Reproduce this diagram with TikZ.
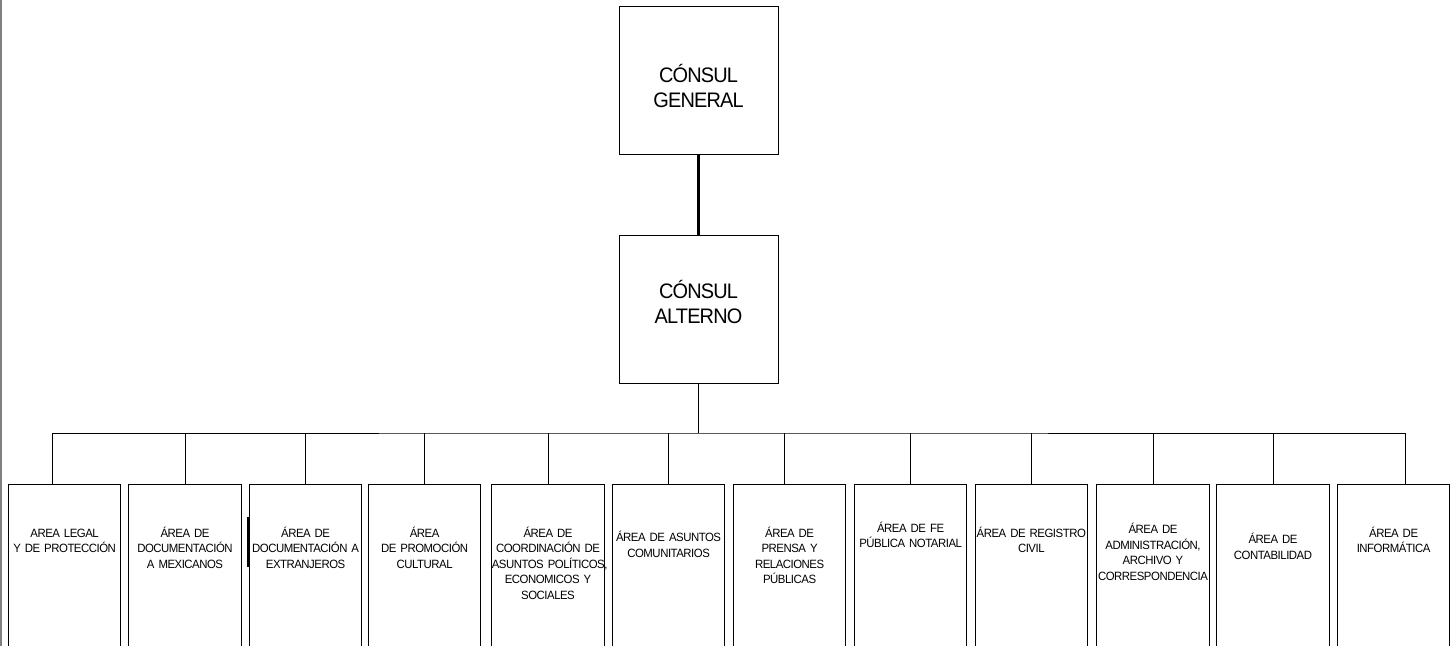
\documentclass[tikz,border=0pt]{standalone}
\usepackage{fontspec}
\setmainfont{Liberation Sans}[FakeStretch=0.95, LetterSpace=-4, WordSpace=0.6]

\tikzset{
  jefe/.style={draw, anchor=north, text width=79.5pt, align=center,
    inner xsep=0pt, inner ysep=0pt, font=\fontsize{10.5}{12.5}\selectfont},
  area/.style={draw, anchor=north, text width=56.25pt, align=center,
    inner xsep=0pt, inner ysep=0pt, text height=26.3pt, text depth=62pt,
    font=\fontsize{6}{7.7}\selectfont},
}

\begin{document}
\begin{tikzpicture}[x=0.5pt, y=-0.5pt, line width=0.5pt]
    \useasboundingbox (0,0) rectangle (1455,646);
    \clip (0,0) rectangle (1455,646);
    \draw[gray, line width=1pt] (1,0) -- (1,646);

    \node[jefe, text height=38pt, text depth=36pt] (general) at (698.5,6) {CÓNSUL\\GENERAL};
    \node[jefe, text height=31.5pt, text depth=42.5pt] (alterno) at (698.5,235) {CÓNSUL\\ALTERNO};
    \draw[line width=1.6pt] (general.south) -- (alterno.north);

    \node[area] (legal) at (64.6,484.3) {AREA LEGAL\\Y DE PROTECCIÓN};
    \node[area] (mexicanos) at (185,484.3) {ÁREA DE\\DOCUMENTACIÓN\\A MEXICANOS};
    \node[area] (extranjeros) at (305.6,484.3) {ÁREA DE\\DOCUMENTACIÓN A\\EXTRANJEROS};
    \node[area] (cultural) at (424.6,484.3) {ÁREA\\DE PROMOCIÓN\\CULTURAL};
    \node[area] (politicos) at (548,484.3) {ÁREA DE\\COORDINACIÓN DE\\\mbox{ASUNTOS POLÍTICOS,}\\ECONOMICOS Y\\SOCIALES};
    \node[area, text height=28.5pt] (comunitarios) at (668.6,484.3) {ÁREA DE ASUNTOS\\COMUNITARIOS};
    \node[area] (prensa) at (789.6,484.3) {ÁREA DE\\PRENSA Y\\RELACIONES\\PÚBLICAS};
    \node[area, text height=23.7pt] (notarial) at (910.6,484.3) {ÁREA DE FE\\\mbox{PÚBLICA NOTARIAL}};
    \node[area] (civil) at (1031.3,484.3) {ÁREA DE REGISTRO\\CIVIL};
    \node[area, text height=24.5pt] (admin) at (1153,484.3) {ÁREA DE\\ADMINISTRACIÓN,\\ARCHIVO Y\\\mbox{CORRESPONDENCIA}};
    \node[area, text height=29.5pt] (contab) at (1273,484.3) {ÁREA DE\\CONTABILIDAD};
    \node[area] (informatica) at (1393.6,484.3) {ÁREA DE\\INFORMÁTICA};

    % bus
    \coordinate (bus) at (698.5,433);
    \draw (alterno.south) -- (bus);
    \draw ([xshift=-6pt]legal.north) |- (bus) -| ([xshift=6pt]informatica.north);
    \draw (mexicanos.north) -- (mexicanos.north |- bus);
    \draw (extranjeros.north) -- (extranjeros.north |- bus);
    \draw (cultural.north) -- (cultural.north |- bus);
    \draw (politicos.north) -- (politicos.north |- bus);
    \draw (comunitarios.north) -- (comunitarios.north |- bus);
    \draw ([xshift=-2.5pt]prensa.north) -- ([xshift=-2.5pt]prensa.north |- bus);
    \draw (notarial.north) -- (notarial.north |- bus);
    \draw (civil.north) -- (civil.north |- bus);
    \draw (admin.north) -- (admin.north |- bus);
    \draw (contab.north) -- (contab.north |- bus);

    \draw[line width=0.9pt] ([shift={(-0.5pt,-16.2pt)}]extranjeros.north west) -- ++(0,50);
\end{tikzpicture}
\end{document}
